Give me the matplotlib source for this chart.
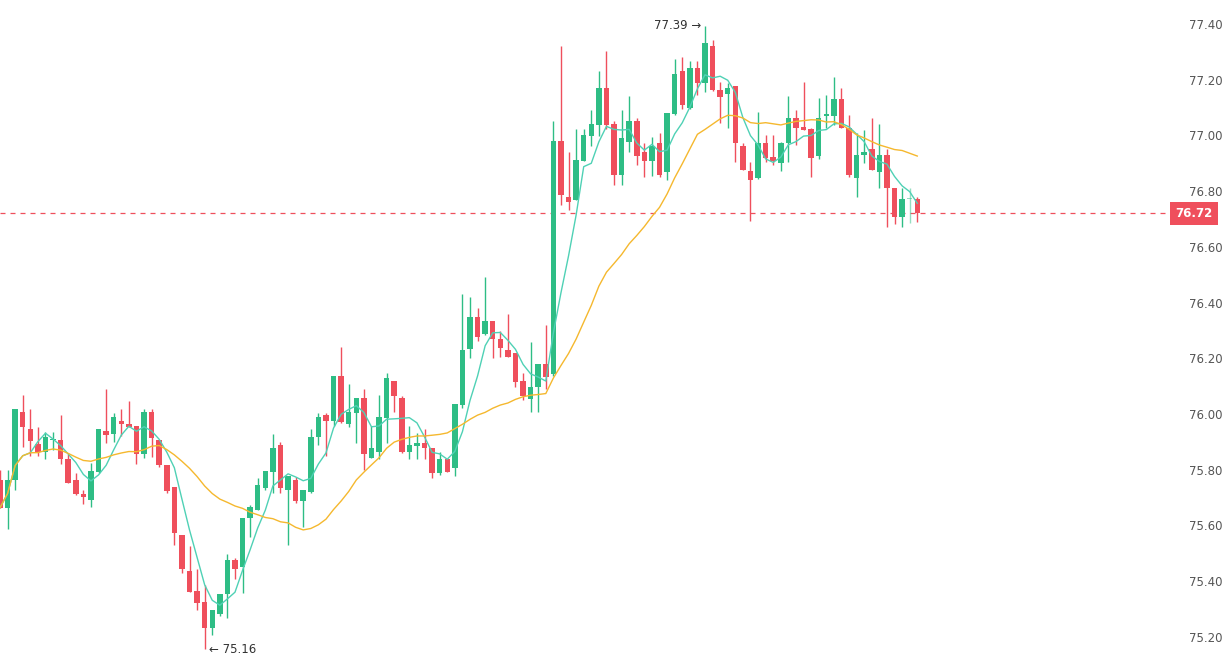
import numpy as np
import pandas as pd
import matplotlib
matplotlib.use("Agg")
import matplotlib.pyplot as plt

# OHLC, oldest first
OPEN = [75.765, 75.664, 75.765, 76.006, 75.945, 75.894, 75.864, 75.906, 75.906, 75.837,
        75.765, 75.714, 75.692, 75.793, 75.938, 75.927, 75.976, 75.966, 75.957, 75.855,
        76.006, 75.906, 75.816, 75.737, 75.566, 75.437, 75.365, 75.324, 75.233, 75.282,
        75.354, 75.476, 75.452, 75.626, 75.655, 75.733, 75.793, 75.889, 75.727, 75.765,
        75.689, 75.721, 75.917, 75.997, 75.976, 76.136, 75.964, 76.005, 76.058, 75.843,
        75.865, 75.987, 76.119, 76.056, 75.865, 75.886, 75.895, 75.877, 75.787, 75.837,
        75.805, 76.032, 76.233, 76.347, 76.287, 76.335, 76.268, 76.230, 76.218, 76.118,
        76.053, 76.096, 76.179, 76.144, 76.980, 76.780, 76.768, 76.909, 76.999, 77.037,
        77.171, 77.040, 76.858, 76.977, 77.052, 76.939, 76.909, 76.971, 76.870, 77.077,
        77.231, 77.097, 77.241, 77.189, 77.321, 77.163, 77.148, 77.178, 76.962, 76.872,
        76.848, 76.971, 76.924, 76.900, 76.971, 77.061, 77.030, 77.023, 76.927, 77.071,
        77.071, 77.131, 77.028, 76.848, 76.929, 76.951, 76.870, 76.929, 76.810, 76.708,
        76.772, 76.772]
HIGH = [75.799, 75.799, 76.017, 76.068, 76.017, 75.955, 75.936, 75.936, 75.996, 75.856,
        75.787, 75.726, 75.825, 75.945, 76.089, 76.005, 76.017, 76.048, 75.957, 76.017,
        76.017, 75.906, 75.816, 75.737, 75.566, 75.526, 75.443, 75.386, 75.297, 75.354,
        75.498, 75.482, 75.626, 75.673, 75.769, 75.795, 75.928, 75.901, 75.777, 75.775,
        75.727, 75.945, 76.005, 76.005, 76.136, 76.239, 76.108, 76.058, 76.089, 75.957,
        76.068, 76.148, 76.119, 76.065, 75.957, 75.931, 75.945, 75.877, 75.865, 75.837,
        76.036, 76.431, 76.419, 76.379, 76.491, 76.335, 76.299, 76.359, 76.218, 76.148,
        76.260, 76.179, 76.319, 77.052, 77.322, 76.942, 77.023, 77.023, 77.091, 77.231,
        77.303, 77.052, 77.091, 77.142, 77.061, 76.971, 76.995, 77.007, 77.079, 77.274,
        77.283, 77.267, 77.267, 77.394, 77.342, 77.193, 77.187, 77.178, 76.971, 76.906,
        77.085, 77.001, 77.001, 76.977, 77.142, 77.091, 77.193, 77.025, 77.133, 77.145,
        77.211, 77.171, 77.073, 77.007, 77.019, 77.061, 77.040, 76.953, 76.810, 76.810,
        76.810, 76.780]
LOW = [75.664, 75.589, 75.729, 75.880, 75.849, 75.849, 75.837, 75.870, 75.820, 75.753,
       75.708, 75.678, 75.666, 75.787, 75.897, 75.901, 75.921, 75.952, 75.819, 75.844,
       75.847, 75.811, 75.718, 75.530, 75.428, 75.362, 75.297, 75.155, 75.207, 75.275,
       75.267, 75.407, 75.359, 75.560, 75.655, 75.727, 75.718, 75.718, 75.530, 75.682,
       75.596, 75.718, 75.889, 75.849, 75.957, 75.969, 75.955, 75.897, 75.799, 75.843,
       75.837, 75.897, 76.009, 75.861, 75.837, 75.837, 75.837, 75.769, 75.781, 75.793,
       75.778, 76.020, 76.200, 76.263, 76.284, 76.200, 76.204, 76.206, 76.098, 76.050,
       76.009, 76.009, 76.089, 76.136, 76.750, 76.732, 76.768, 76.909, 76.963, 76.999,
       77.023, 76.822, 76.822, 76.942, 76.894, 76.852, 76.855, 76.852, 76.840, 77.073,
       77.095, 77.095, 77.145, 77.157, 77.159, 77.043, 77.025, 76.906, 76.876, 76.693,
       76.843, 76.906, 76.894, 76.872, 76.906, 76.965, 77.019, 76.852, 76.915, 77.025,
       77.037, 77.028, 76.852, 76.780, 76.900, 76.876, 76.812, 76.672, 76.681, 76.672,
       76.684, 76.690]
CLOSE = [75.664, 75.765, 76.017, 75.955, 75.904, 75.864, 75.916, 75.912, 75.837, 75.753,
         75.712, 75.702, 75.796, 75.945, 75.925, 75.990, 75.966, 75.955, 75.855, 76.006,
         75.915, 75.816, 75.725, 75.574, 75.443, 75.362, 75.323, 75.233, 75.297, 75.354,
         75.476, 75.443, 75.626, 75.667, 75.745, 75.795, 75.877, 75.733, 75.777, 75.689,
         75.727, 75.919, 75.991, 75.976, 76.136, 75.973, 76.007, 76.058, 75.856, 75.877,
         75.988, 76.128, 76.065, 75.865, 75.889, 75.895, 75.877, 75.787, 75.837, 75.793,
         76.036, 76.230, 76.347, 76.278, 76.335, 76.268, 76.236, 76.206, 76.116, 76.065,
         76.098, 76.179, 76.134, 76.980, 76.786, 76.760, 76.912, 77.001, 77.041, 77.171,
         77.037, 76.858, 76.990, 77.052, 76.927, 76.909, 76.962, 76.858, 77.079, 77.219,
         77.109, 77.241, 77.189, 77.330, 77.163, 77.139, 77.169, 76.971, 76.876, 76.840,
         76.971, 76.920, 76.909, 76.971, 77.061, 77.028, 77.019, 76.920, 77.061, 77.076,
         77.131, 77.028, 76.858, 76.929, 76.941, 76.876, 76.929, 76.810, 76.708, 76.772,
         76.772, 76.720]

LAST_PRICE = 76.72
HIGH_LABEL = "77.39"
LOW_LABEL = "75.16"
Y_TICKS = [75.20, 75.40, 75.60, 75.80, 76.00, 76.20, 76.40, 76.60, 76.80, 77.00, 77.20, 77.40]

UP = "#2ebd85"
DOWN = "#ef4f5c"

df = pd.DataFrame({"open": OPEN, "high": HIGH, "low": LOW, "close": CLOSE})
df["ma5"] = df["close"].rolling(5, min_periods=1).mean()
df["ma20"] = df["close"].rolling(20, min_periods=1).mean()

fig = plt.figure(figsize=(12.31, 6.57), dpi=100)
ax = fig.add_axes([0, 0, 1175 / 1231, 1])

x = np.arange(len(df))
for i, row in df.iterrows():
    up = row["close"] >= row["open"]
    col = UP if up else DOWN
    alpha = 0.5 if i == len(df) - 2 else 1.0
    ax.vlines(i, row["low"], row["high"], color=col, lw=1, alpha=alpha, zorder=2)
    lo = min(row["open"], row["close"])
    h = max(abs(row["close"] - row["open"]), 0.004)
    ax.bar(i, h, bottom=lo, width=0.72, color=col, alpha=alpha, zorder=3)

ax.plot(x, df["ma5"], color="#4fd1b5", lw=1, zorder=4)
ax.plot(x, df["ma20"], color="#f5b82e", lw=1, zorder=4)

ax.axhline(LAST_PRICE, color=DOWN, lw=0.9, ls=(0, (4, 4)), zorder=1)

ihi = int(np.argmax(HIGH))
ilo = int(np.argmin(LOW))
ax.annotate(HIGH_LABEL + " \u2192", (ihi, HIGH[ihi]), xytext=(-3, 0), textcoords="offset points",
            ha="right", va="center", fontsize=8.5, color="#333333")
ax.annotate("\u2190 " + LOW_LABEL, (ilo, LOW[ilo]), xytext=(3, 0), textcoords="offset points",
            ha="left", va="center", fontsize=8.5, color="#333333")

ax.set_xlim(0, 155)
ax.set_ylim(75.128, 77.486)
ax.set_xticks([])
ax.yaxis.tick_right()
ax.set_yticks(Y_TICKS)
ax.set_yticklabels([f"{t:.2f}" for t in Y_TICKS])
ax.tick_params(axis="y", length=0, pad=10, labelsize=8.5, labelcolor="#555555")
for s in ax.spines.values():
    s.set_visible(False)

ax.text(1.0, LAST_PRICE, f"{LAST_PRICE:.2f}", transform=ax.get_yaxis_transform(),
        ha="left", va="center", fontsize=8.5, color="white", fontweight="bold",
        bbox=dict(boxstyle="square,pad=0.45", fc=DOWN, ec="none"), zorder=6)

fig.savefig("out.png", dpi=100)
